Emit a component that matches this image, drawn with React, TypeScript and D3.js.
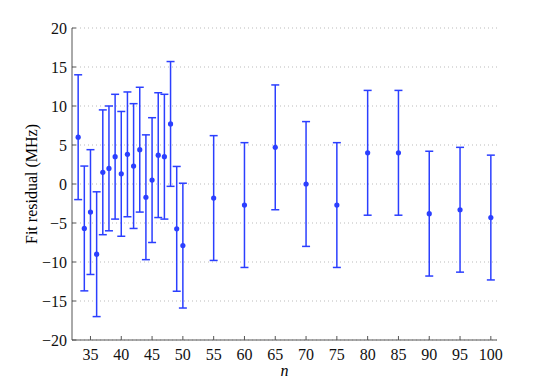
import React from 'react';
import * as d3 from 'd3';

// principal quantum number n
const nValues = [33, 34, 35, 36, 37, 38, 39, 40, 41, 42, 43, 44, 45, 46, 47, 48, 49, 50,
  55, 60, 65, 70, 75, 80, 85, 90, 95, 100];
// fit residual (MHz)
const residuals = [6.0, -5.7, -3.6, -9.0, 1.5, 2.0, 3.5, 1.3, 3.8, 2.3, 4.4, -1.7, 0.5, 3.7, 3.5, 7.7, -5.75, -7.9,
  -1.8, -2.7, 4.7, 0.0, -2.7, 4.0, 4.0, -3.8, -3.3, -4.3];
// symmetric uncertainty (MHz)
const errors = [8, 8, 8, 8, 8, 8, 8, 8, 8, 8, 8, 8, 8, 8, 8, 8, 8, 8,
  8, 8, 8, 8, 8, 8, 8, 8, 8, 8];
const xTicks = [35, 40, 45, 50, 55, 60, 65, 70, 75, 80, 85, 90, 95, 100];
const yTicks = [-20, -15, -10, -5, 0, 5, 10, 15, 20];

const W = 550, H = 382;
const margin = { top: 28, right: 53, bottom: 42, left: 72 };
const font = "'Times New Roman', 'Liberation Serif', serif";
const blue = '#2b3fff';
const axisColor = '#555';

export default function App() {
  const width = W - margin.left - margin.right;
  const height = H - margin.top - margin.bottom;
  const x = d3.scaleLinear().domain([32, 101]).range([0, width]);
  const y = d3.scaleLinear().domain([-20, 20]).range([height, 0]);
  const textStyle = { fontFamily: font, fontSize: 16 };

  return (
    <svg width={W} height={H} style={{ display: 'block', position: 'absolute', left: 0, top: 0, background: '#fff' }}>
      <g transform={`translate(${margin.left},${margin.top})`}>
        {yTicks.map(t => (
          <line key={'g' + t} x1={0} x2={width} y1={y(t)} y2={y(t)} stroke="#bbb" strokeDasharray="1,3" />
        ))}
        {/* y axis */}
        <line x1={0} x2={0} y1={0} y2={height} stroke={axisColor} />
        {yTicks.map(t => (
          <g key={'y' + t} transform={`translate(0,${y(t)})`}>
            <line x1={0} x2={4} stroke={axisColor} />
            <text x={-5} dy="0.35em" textAnchor="end" fill="#111" style={textStyle}>
              {String(t).replace('-', '\u2212')}
            </text>
          </g>
        ))}
        {/* x axis */}
        <line x1={0} x2={width} y1={height} y2={height} stroke={axisColor} />
        {xTicks.map(t => (
          <g key={'x' + t} transform={`translate(${x(t)},${height})`}>
            <line y1={0} y2={-4} stroke={axisColor} />
            <text y={20} textAnchor="middle" fill="#111" style={textStyle}>{t}</text>
          </g>
        ))}
        {nValues.map((n, i) => {
          const cx = x(n);
          const v = residuals[i];
          const e = errors[i];
          return (
            <g key={'p' + n} stroke={blue} strokeWidth={1.5}>
              <line x1={cx} x2={cx} y1={y(v - e)} y2={y(v + e)} />
              <line x1={cx - 4} x2={cx + 4} y1={y(v - e)} y2={y(v - e)} />
              <line x1={cx - 4} x2={cx + 4} y1={y(v + e)} y2={y(v + e)} />
              <circle cx={cx} cy={y(v)} r={2.6} fill={blue} stroke="none" />
            </g>
          );
        })}
      </g>
      <text x={margin.left + width / 2} y={H - 6} textAnchor="middle" style={{ ...textStyle, fontStyle: 'italic' }}>n</text>
      <text transform={`translate(37,${margin.top + height / 2}) rotate(-90)`} textAnchor="middle" style={textStyle}>
        Fit residual (MHz)
      </text>
    </svg>
  );
}
